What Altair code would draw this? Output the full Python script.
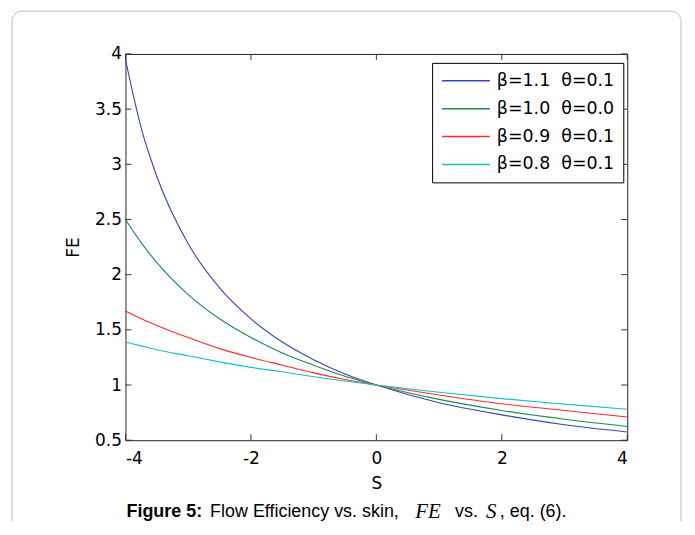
import altair as alt
import pandas as pd

# ---- data ----
S_vals = [-4, -3.75, -3.5, -3, -2.5, -2, -1.5, -1, -0.5, 0, 1, 2, 3, 4]
fe_b11 = [3.95, 3.33, 2.89, 2.28, 1.88, 1.60, 1.39, 1.23, 1.10, 1.0, 0.84, 0.73, 0.64, 0.575]
fe_b10 = [2.50, 2.29, 2.11, 1.82, 1.60, 1.43, 1.29, 1.18, 1.08, 1.0, 0.87, 0.77, 0.69, 0.625]
fe_b09 = [1.67, 1.60, 1.54, 1.43, 1.33, 1.25, 1.18, 1.11, 1.05, 1.0, 0.91, 0.83, 0.77, 0.71]
fe_b08 = [1.39, 1.355, 1.32, 1.265, 1.21, 1.16, 1.12, 1.075, 1.036, 1.0, 0.935, 0.877, 0.827, 0.78]

sp = "\u00a0\u00a0"
labels = [f"β=1.1{sp}θ=0.1", f"β=1.0{sp}θ=0.0", f"β=0.9{sp}θ=0.1", f"β=0.8{sp}θ=0.1"]
colors = ["#3347b8", "#1f8a4a", "#ff2a2a", "#18c2c2"]
series = [fe_b11, fe_b10, fe_b09, fe_b08]

x_ticks = [-4, -2, 0, 2, 4]
y_ticks = [0.5, 1, 1.5, 2, 2.5, 3, 3.5, 4]

rows = []
for lab, vals in zip(labels, series):
    for s, v in zip(S_vals, vals):
        rows.append({"S": s, "FE": v, "series": lab})
df = pd.DataFrame(rows)

W, H = 504, 388
FONT = "DejaVu Sans"
CAPFONT = "Liberation Sans"

xscale = alt.Scale(domain=[-4, 4], nice=False, zero=False)
yscale = alt.Scale(domain=[0.5, 4], nice=False, zero=False)

lines = alt.Chart(df).mark_line(strokeWidth=1.1, interpolate="monotone").encode(
    x=alt.X("S:Q", scale=xscale,
            axis=alt.Axis(title="S", values=x_ticks, ticks=False, domain=False, grid=False,
                          labelExpr="'' + datum.value",
                          labelFontSize=17, labelFont=FONT, labelColor="black", labelPadding=10,
                          titleFontSize=17, titleFont=FONT, titleFontWeight="normal",
                          titleColor="black", titlePadding=9)),
    y=alt.Y("FE:Q", scale=yscale,
            axis=alt.Axis(title="FE", values=y_ticks, ticks=False, domain=False, grid=False,
                          labelExpr="'' + datum.value",
                          labelFontSize=17, labelFont=FONT, labelColor="black", labelPadding=4,
                          titleFontSize=17, titleFont=FONT, titleFontWeight="normal",
                          titleColor="black", titlePadding=12)),
    color=alt.Color("series:N", sort=labels,
                    scale=alt.Scale(domain=labels, range=colors),
                    legend=alt.Legend(title=None, orient="none", legendX=308, legendY=9,
                                      symbolType="stroke", symbolSize=2304, symbolStrokeWidth=1.4,
                                      clipHeight=18,
                                      labelFontSize=17.5, labelFont=FONT, labelColor="black",
                                      labelOffset=6, rowPadding=10, padding=9,
                                      strokeColor="black", fillColor="white")),
)

yt = pd.DataFrame({"v": y_ticks})
xt = pd.DataFrame({"v": x_ticks})
TL = 6
TC = "#333333"
ytick_l = alt.Chart(yt).mark_rule(color=TC).encode(
    y=alt.Y("v:Q", scale=yscale), x=alt.value(0), x2=alt.value(TL))
ytick_r = alt.Chart(yt).mark_rule(color=TC).encode(
    y=alt.Y("v:Q", scale=yscale), x=alt.value(W - TL), x2=alt.value(W))
xtick_b = alt.Chart(xt).mark_rule(color=TC).encode(
    x=alt.X("v:Q", scale=xscale), y=alt.value(H - TL), y2=alt.value(H))
xtick_t = alt.Chart(xt).mark_rule(color=TC).encode(
    x=alt.X("v:Q", scale=xscale), y=alt.value(0), y2=alt.value(TL))

# figure frame (decorative rounded box)
frame = alt.Chart(pd.DataFrame({"a": [0]})).mark_rect(
    fillOpacity=0, stroke="#bdbdbd", strokeWidth=1, cornerRadius=10
).encode(x=alt.value(-114), x2=alt.value(558), y=alt.value(-43), y2=alt.value(520))

# caption pieces
cap_y = 460
cap = [
    ("Figure 5:", 1, "bold", "normal", CAPFONT, 18),
    ("Flow Efficiency vs. skin,", 85, "normal", "normal", CAPFONT, 18),
    ("FE\u2009", 291, "normal", "italic", "Liberation Serif", 21),
    ("vs.", 331, "normal", "normal", CAPFONT, 18),
    ("S\u2009", 362, "normal", "italic", "Liberation Serif", 21),
    (", eq. (6).", 376, "normal", "normal", CAPFONT, 18),
]
cap_layers = []
for txt, xx, fw, fs, fnt, sz in cap:
    cap_layers.append(
        alt.Chart(pd.DataFrame({"t": [txt]})).mark_text(
            align="left", baseline="middle", font=fnt, fontSize=sz,
            fontWeight=fw, fontStyle=fs, color="black"
        ).encode(text="t:N", x=alt.value(xx), y=alt.value(cap_y))
    )

chart = alt.layer(frame, lines, ytick_l, ytick_r, xtick_b, xtick_t, *cap_layers).properties(
    width=W, height=H,
    padding={"left": 118, "top": 45, "right": 60, "bottom": 80},
    autosize=alt.AutoSizeParams(type="none"),
    background="white",
).configure_view(stroke="#222222", strokeWidth=1)

chart.save("out.html", embed_options={"renderer": "svg", "actions": False})
